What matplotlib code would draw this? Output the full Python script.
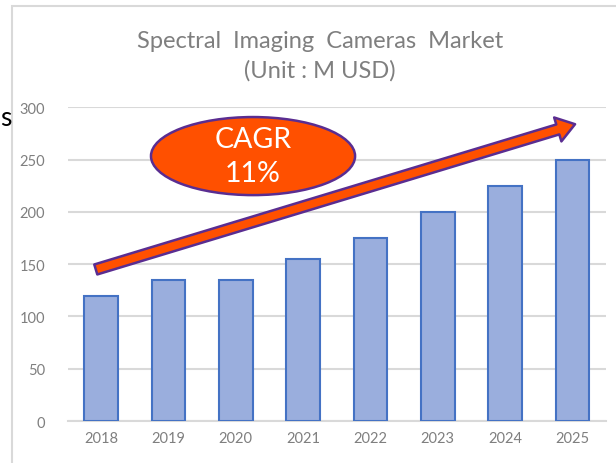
import matplotlib
matplotlib.use("Agg")
import matplotlib.pyplot as plt
from matplotlib.patches import Ellipse, Rectangle

plt.rcParams['font.family'] = ['Lato', 'DejaVu Sans']

# Data
years = ['2018', '2019', '2020', '2021', '2022', '2023', '2024', '2025']
market = [120, 135, 135, 155, 175, 200, 225, 250]
y_ticks = [0, 50, 100, 150, 200, 250, 300]

title = 'Spectral  Imaging  Cameras  Market\n(Unit : M USD)'
cagr_text = 'CAGR\n11%'

grey_text = '#7f7f7f'
grid_col = '#d9d9d9'
bar_fill = '#9aaedd'
bar_edge = '#4472c4'
orange = '#ff5000'
purple = '#5a2d91'

fig = plt.figure(figsize=(6.16, 4.64), dpi=100)
ax = fig.add_axes([0.1096, 0.0905, 0.8742, 0.6757])

# chart frame
fig.patches.append(Rectangle((12 / 616, -0.1), 1.2, 1 - 7 / 464 + 0.1,
                             transform=fig.transFigure, fill=False,
                             edgecolor=grid_col, linewidth=1.5))
fig.text(0.5 / 616, 1 - 118 / 464, 's', ha='left', va='center',
         fontsize=19, color='black')

x = range(len(years))
ax.bar(x, market, width=0.5, color=bar_fill, edgecolor=bar_edge,
       linewidth=1.5, zorder=3)

ax.set_xlim(-0.5, len(years) - 0.5)
ax.set_ylim(0, 300)
ax.set_yticks(y_ticks)
ax.set_xticks(list(x))
ax.set_xticklabels(years)
ax.tick_params(length=0, labelsize=10.5, colors=grey_text, pad=7)
ax.tick_params(axis='y', pad=16)
ax.yaxis.grid(True, color=grid_col, linewidth=1.5, zorder=0)
ax.set_axisbelow(True)
for side in ['top', 'right', 'left']:
    ax.spines[side].set_visible(False)
ax.spines['bottom'].set_color(grid_col)
ax.spines['bottom'].set_linewidth(1.5)

fig.text(0.519, 1 - 56 / 464, title, ha='center', va='center',
         fontsize=17, color=grey_text, linespacing=1.45)

# growth arrow
ax.annotate('', xy=(7.04, 284), xytext=(-0.08, 145),
            arrowprops=dict(arrowstyle='simple,head_length=1.3,head_width=1.8,tail_width=0.75',
                            mutation_scale=10, fc=orange, ec=purple, lw=1.8,
                            shrinkA=0, shrinkB=0),
            annotation_clip=False, zorder=5)

# CAGR bubble
ax.add_patch(Ellipse((0.3445, 0.845), 0.379, 0.249, transform=ax.transAxes,
                     facecolor=orange, edgecolor=purple, linewidth=1.8,
                     zorder=6, clip_on=False))
ax.text(0.3445, 0.845, cagr_text, transform=ax.transAxes, ha='center',
        va='center', fontsize=20.5, color='white', linespacing=1.4, zorder=7)

fig.savefig('out.png', dpi=100)
